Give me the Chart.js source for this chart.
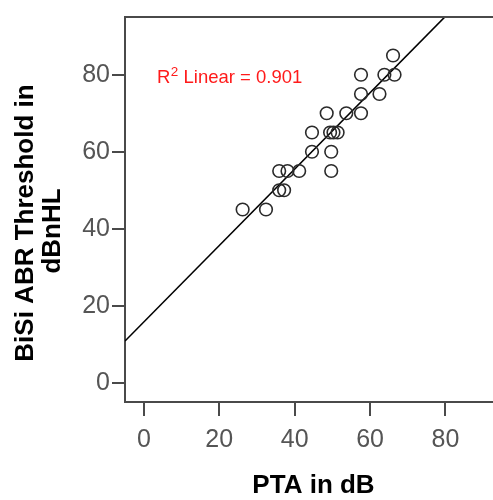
<!DOCTYPE html>
<html>
<head>
<meta charset="utf-8">
<script src="https://cdn.jsdelivr.net/npm/chart.js@4.4.1/dist/chart.umd.min.js"></script>
<style>
html,body{margin:0;padding:0;background:#fff;overflow:hidden;width:493px;height:500px}
#wrap{width:510px;height:500px}
</style>
</head>
<body>
<div id="wrap"><canvas id="c" width="510" height="500"></canvas></div>
<script>
// Data
const ptaDb = [26.2, 32.4, 35.9, 37.2, 35.9, 38.1, 41.2, 49.7, 44.6, 49.7, 44.6, 49.4, 50.3, 51.4, 48.5, 53.7, 57.6, 57.6, 62.5, 57.6, 63.8, 66.5, 66.1];
const abrDb = [45, 45, 50, 50, 55, 55, 55, 55, 60, 60, 65, 65, 65, 65, 70, 70, 70, 75, 75, 80, 80, 80, 85];
const xTicks = [0, 20, 40, 60, 80];
const yTicks = [0, 20, 40, 60, 80];
const xRange = [-5, 95];
const yRange = [-5, 95];
const xTitle = 'PTA in dB';
const yTitleLines = ['BiSi ABR Threshold in', 'dBnHL'];
const r2Label = ['R', '2', ' Linear = 0.901'];

// least-squares fit line through the points
const n = ptaDb.length;
const mx = ptaDb.reduce((a, b) => a + b, 0) / n;
const my = abrDb.reduce((a, b) => a + b, 0) / n;
let sxy = 0, sxx = 0;
for (let i = 0; i < n; i++) { sxy += (ptaDb[i] - mx) * (abrDb[i] - my); sxx += (ptaDb[i] - mx) ** 2; }
const slope = sxy / sxx;
const intercept = my - slope * mx;
const fitPts = xRange.map(x => ({x: x, y: intercept + slope * x}));

const points = ptaDb.map((x, i) => ({x: x, y: abrDb[i]}));

const AXIS = '#4a4a4a';
const TICKFONT = {family: "'Liberation Sans', Arial, sans-serif", size: 25};

const decor = {
  id: 'decor',
  afterDraw(chart) {
    const ctx = chart.ctx, a = chart.chartArea;
    ctx.save();
    // frame top line
    ctx.strokeStyle = AXIS; ctx.lineWidth = 2;
    ctx.beginPath(); ctx.moveTo(a.left - 1, a.top); ctx.lineTo(a.right, a.top); ctx.stroke();
    // R2 annotation
    ctx.fillStyle = '#ff1a1a';
    ctx.textBaseline = 'alphabetic'; ctx.textAlign = 'left';
    let x = a.left + 32, y = a.top + 66;
    ctx.font = "18.5px 'Liberation Sans', Arial, sans-serif";
    ctx.fillText(r2Label[0], x, y); x += ctx.measureText(r2Label[0]).width + 0.5;
    ctx.font = "13.5px 'Liberation Sans', Arial, sans-serif";
    ctx.fillText(r2Label[1], x, y - 7); x += ctx.measureText(r2Label[1]).width;
    ctx.font = "18.5px 'Liberation Sans', Arial, sans-serif";
    ctx.fillText(r2Label[2], x, y);
    // axis titles
    ctx.fillStyle = '#000';
    ctx.font = "bold 26px 'Liberation Sans', Arial, sans-serif";
    ctx.textAlign = 'center';
    ctx.fillText(xTitle, (a.left + a.right) / 2, 493);
    ctx.save();
    ctx.translate(33, 223); ctx.rotate(-Math.PI / 2);
    ctx.fillText(yTitleLines[0], 0, 0);
    ctx.restore();
    ctx.save();
    ctx.translate(60, 231); ctx.rotate(-Math.PI / 2);
    ctx.fillText(yTitleLines[1], 0, 0);
    ctx.restore();
    ctx.restore();
  }
};

new Chart(document.getElementById('c'), {
  type: 'scatter',
  data: {
    datasets: [
      {
        data: points,
        pointRadius: 6.3,
        pointBorderWidth: 1.6,
        borderColor: '#2a2a2a',
        backgroundColor: 'rgba(0,0,0,0)',
        pointBackgroundColor: 'rgba(0,0,0,0)',
        pointBorderColor: '#2a2a2a'
      },
      {
        data: fitPts,
        showLine: true,
        pointRadius: 0,
        borderColor: '#000',
        borderWidth: 1.6
      }
    ]
  },
  options: {
    responsive: false,
    animation: false,
    devicePixelRatio: 1,
    layout: {padding: {left: 0, right: 8, top: 12, bottom: 0}},
    plugins: {legend: {display: false}, tooltip: {enabled: false}},
    scales: {
      x: {
        type: 'linear', min: xRange[0], max: xRange[1],
        afterBuildTicks: s => { s.ticks = xTicks.map(v => ({value: v})); },
        afterFit: s => { s.height = 98; },
        border: {display: true, color: AXIS, width: 2},
        grid: {drawOnChartArea: false, drawTicks: true, tickLength: 14, color: AXIS, lineWidth: 2},
        ticks: {font: TICKFONT, color: '#555', padding: 9, maxRotation: 0, autoSkip: false}
      },
      y: {
        type: 'linear', min: yRange[0], max: yRange[1],
        afterBuildTicks: s => { s.ticks = yTicks.map(v => ({value: v})); },
        afterFit: s => { s.width = 125; },
        border: {display: true, color: AXIS, width: 2},
        grid: {drawOnChartArea: false, drawTicks: true, tickLength: 13, color: AXIS, lineWidth: 2},
        ticks: {font: TICKFONT, color: '#555', padding: 2, autoSkip: false}
      }
    }
  },
  plugins: [decor]
});
</script>
</body>
</html>
